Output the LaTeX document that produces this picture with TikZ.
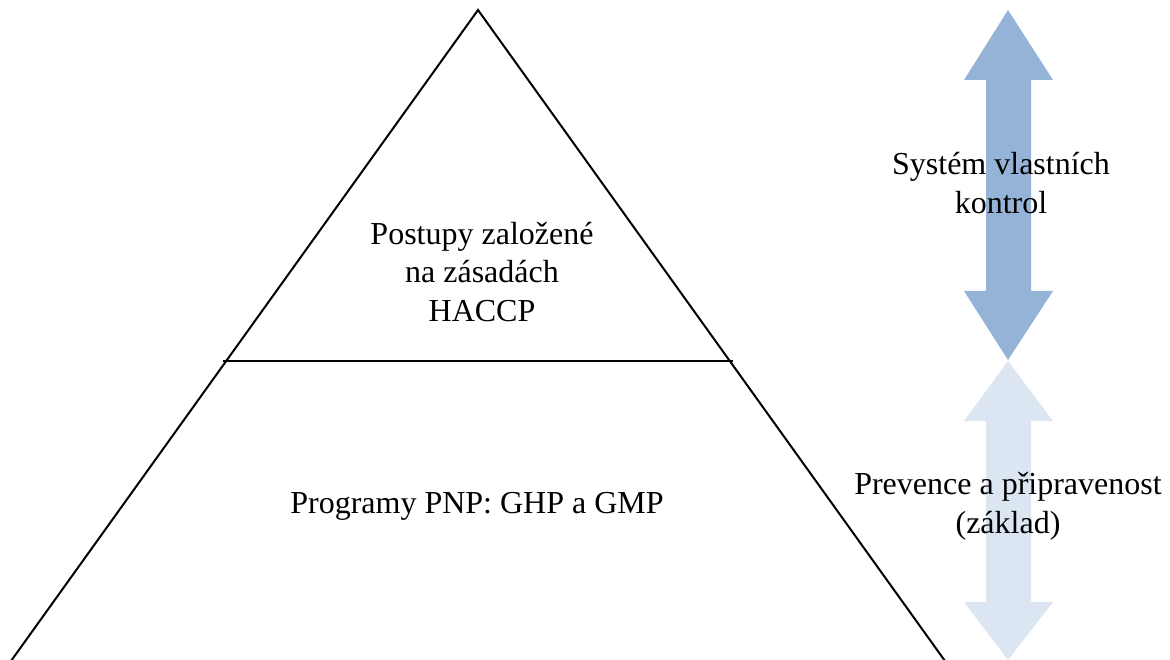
\documentclass[tikz,border=0pt]{standalone}
\usepackage{fontspec}
\setmainfont{Liberation Serif}
\definecolor{darkarrow}{HTML}{95B3D7}
\definecolor{lightarrow}{HTML}{DCE6F2}
\begin{document}
\begin{tikzpicture}[x=1pt,y=-1pt,
  lbl/.style={font=\fontsize{32}{38.6}\selectfont, align=center, inner sep=0pt, text=black},
  edge/.style={line width=2pt, black}]
\useasboundingbox (0,0) rectangle (1170,660);
% arrows
\fill[darkarrow] (1008,10) -- (1053,80) -- (1031,80) -- (1031,291) -- (1053,291) -- (1008,360)
  -- (964,291) -- (986,291) -- (986,80) -- (964,80) -- cycle;
\fill[lightarrow] (1008,361) -- (1053,421) -- (1031,421) -- (1031,602) -- (1053,602) -- (1008,660)
  -- (964,602) -- (986,602) -- (986,421) -- (964,421) -- cycle;
% pyramid
\coordinate (apex) at (478,10);
\coordinate (bl) at (11,661);
\coordinate (br) at (945,661);
\coordinate (ml) at (223,361);
\coordinate (mr) at (733,361);
\draw[edge, line join=miter] (bl) -- (apex) -- (br);
\draw[line width=2.4pt] (ml) -- (mr);
% labels
\node[lbl] (haccp) at (482,272) {Postupy založené\\na zásadách\\HACCP};
\node[lbl] (pnp) at (477,506) {Programy PNP: GHP a GMP};
\node[lbl] (svk) at (1001,183) {Systém vlastních\\kontrol};
\node[lbl] (prev) at (1008,506) {Prevence a připravenost\\(základ)};
\end{tikzpicture}
\end{document}
